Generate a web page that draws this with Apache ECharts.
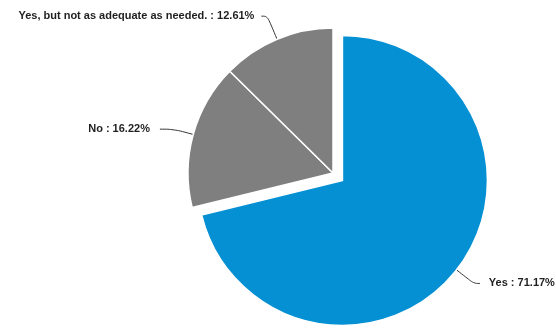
<!DOCTYPE html>
<html>
<head>
<meta charset="utf-8">
<script src="https://cdn.jsdelivr.net/npm/echarts@6/dist/echarts.min.js"></script>
<style>
  html, body { margin: 0; padding: 0; background: #ffffff; }
  #chart { width: 556px; height: 330px; }
</style>
</head>
<body>
<div id="chart"></div>
<script>
// Survey answers and their shares (percent)
const categories = ['Yes', 'No', 'Yes, but not as adequate as needed.'];
const shares = [71.17, 16.22, 12.61];
const sliceColors = ['#0590d3', '#7f7f7f', '#7f7f7f'];
// Leader line lengths per slice: [radial, horizontal], and gap before the text
const leaderLengths = [[22, 6], [20, 14], [25, 6]];
const labelGaps = [9, 10, 7];

const chart = echarts.init(document.getElementById('chart'), null, { renderer: 'canvas' });

const data = categories.map((name, i) => ({
  name: name,
  value: shares[i],
  selected: i === 0,
  itemStyle: { color: sliceColors[i] },
  label: { distanceToLabelLine: labelGaps[i] },
  labelLine: { length: leaderLengths[i][0], length2: leaderLengths[i][1] }
}));

chart.setOption({
  animation: false,
  series: [{
    type: 'pie',
    center: [333, 173],
    radius: [0, 145],
    startAngle: 90,
    clockwise: true,
    selectedMode: 'single',
    selectedOffset: 12,
    avoidLabelOverlap: false,
    itemStyle: { borderColor: '#ffffff', borderWidth: 1.5 },
    label: {
      show: true,
      position: 'outside',
      color: '#1f1f1f',
      fontFamily: 'Liberation Sans, Arial, sans-serif',
      fontWeight: 'bold',
      fontSize: 11,
      formatter: p => p.name + ' : ' + p.value.toFixed(2) + '%'
    },
    labelLine: {
      show: true,
      smooth: 0.4,
      lineStyle: { color: '#333333', width: 1 }
    },
    emphasis: { disabled: true },
    data: data
  }]
});
</script>
</body>
</html>
